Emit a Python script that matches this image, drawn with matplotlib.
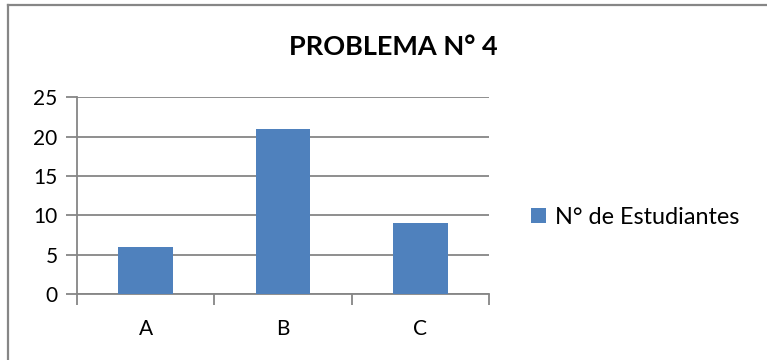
import matplotlib.pyplot as plt
from matplotlib.lines import Line2D

categories = ['A', 'B', 'C']
students = [6, 21, 9]
yticks = [0, 5, 10, 15, 20, 25]

bar_color = '#4F81BD'
grid_color = '#868686'

plt.rcParams['font.family'] = ['Lato', 'DejaVu Sans']

fig = plt.figure(figsize=(7.67, 3.6), dpi=100)
W, H = 767, 360

# chart area border (only the top and left edges fall inside the image)
fig.lines.append(Line2D([7.5 / W, 1.0], [1 - 4.5 / H] * 2,
                        transform=fig.transFigure, color=grid_color,
                        linewidth=1.6))
fig.lines.append(Line2D([7.5 / W] * 2, [0, 1 - 4.5 / H],
                        transform=fig.transFigure, color=grid_color,
                        linewidth=1.6))

ax = fig.add_axes([77 / W, 1 - 294 / H, (489 - 77) / W, (294 - 97.3) / H])
x = list(range(len(categories)))
ax.bar(x, students, width=0.4, color=bar_color, label='N° de Estudiantes',
       zorder=3)

ax.set_xlim(-0.5, len(categories) - 0.5)
ax.set_ylim(0, 25)
ax.set_yticks(yticks)
ax.set_xticks(x)
ax.set_xticklabels(categories)
ax.set_xticks([i - 0.5 for i in range(len(categories) + 1)], minor=True)

ax.yaxis.grid(True, color=grid_color, linewidth=1.3, zorder=0)
for s in ['top', 'right']:
    ax.spines[s].set_visible(False)
for s in ['left', 'bottom']:
    ax.spines[s].set_color(grid_color)
    ax.spines[s].set_linewidth(1.3)

ax.tick_params(axis='y', length=8, width=1.3, color=grid_color, labelsize=15,
               pad=6)
ax.tick_params(axis='x', which='major', length=0, labelsize=15, pad=18)
ax.tick_params(axis='x', which='minor', length=8, width=1.3, color=grid_color)

fig.text(393 / W, 1 - 47 / H, 'PROBLEMA N° 4', ha='center', va='center',
         fontsize=19.5, fontweight='bold')

ax.legend(loc='center left', bbox_to_anchor=(1.052, 0.39), frameon=False,
          fontsize=16.8, handlelength=0.64, handleheight=0.64,
          handletextpad=0.35)

fig.savefig('out.png', dpi=100)
